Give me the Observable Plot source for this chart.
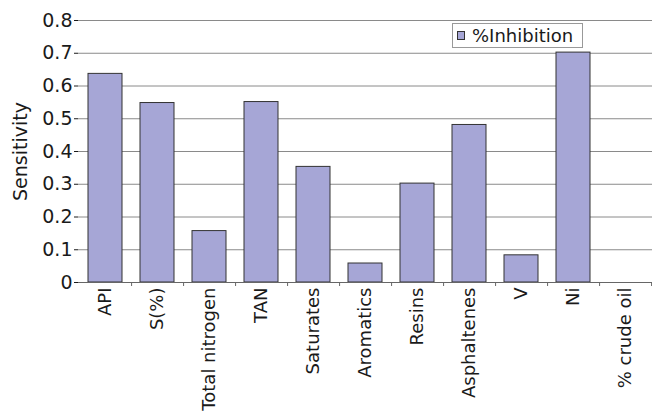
<!DOCTYPE html>
<html>
<head>
<meta charset="utf-8">
<script src="https://cdn.jsdelivr.net/npm/d3@7"></script>
<script src="https://cdn.jsdelivr.net/npm/@observablehq/plot@0.6"></script>
<style>
  html, body { margin: 0; padding: 0; background: #fff; }
  #wrap { position: relative; width: 652px; height: 414px; font-family: "DejaVu Sans", sans-serif; }
  #wrap svg text { font-size: 18px; fill: #1a1a1a; }
  #wrap svg g[aria-label="y-axis tick label"] text { font-size: 19px; }
  #wrap svg g[aria-label="y-axis label"] text { font-size: 19px; }
  #legend { position: absolute; left: 452px; top: 23px; width: 131px; height: 25px; border: 1px solid #999; background: #fff;
    box-sizing: border-box; display: flex; align-items: center; font-size: 18px; color: #1a1a1a; padding-left: 4px; white-space: nowrap; }
  #legend .sw { width: 6px; height: 7px; background: #a6a6d6; border: 1px solid #333; margin-right: 7px; }
</style>
</head>
<body>
<div id="wrap"><div id="legend"><span class="sw"></span><span id="lt"></span></div></div>
<script>
const categories = ["API", "S(%)", "Total nitrogen", "TAN", "Saturates", "Aromatics", "Resins", "Asphaltenes", "V", "Ni", "% crude oil"];
const values = [0.637, 0.548, 0.157, 0.551, 0.353, 0.058, 0.302, 0.481, 0.083, 0.702, 0];
const yTicks = [0, 0.1, 0.2, 0.3, 0.4, 0.5, 0.6, 0.7, 0.8];
const seriesName = "%Inhibition";

document.getElementById("lt").textContent = seriesName;
const data = categories.map((c, i) => ({category: c, value: values[i]}));

const W = 652, ML = 78, MR = 0;
const halfStep = (W - ML - MR) / categories.length / 2;

const chart = Plot.plot({
  width: W,
  height: 414,
  marginLeft: ML,
  marginRight: MR,
  marginTop: 20,
  marginBottom: 132,
  style: {fontFamily: "DejaVu Sans, sans-serif", color: "#1a1a1a", background: "transparent"},
  x: {domain: categories, paddingInner: 0.35, paddingOuter: 0.175, label: null, tickRotate: -90, tickSize: 0, tickPadding: 5},
  y: {domain: [0, 0.8], ticks: yTicks, tickFormat: d => d === 0 ? "0" : d3.format(".1f")(d), label: "Sensitivity", labelAnchor: "center", labelArrow: "none", labelOffset: 65, tickSize: 4, tickPadding: 2},
  marks: [
    Plot.gridY(yTicks, {stroke: "#8a8a8a", strokeOpacity: 1, strokeWidth: 1}),
    Plot.barY(data, {x: "category", y: "value", fill: "#a6a6d6", stroke: "#333", strokeWidth: 1}),
    Plot.ruleX(categories, {x: d => d, dx: halfStep, y1: 0, y2: 0, insetBottom: -4, stroke: "#666"}),
    Plot.ruleX([0], {frameAnchor: "left", stroke: "#666"}),
    Plot.ruleY([0], {stroke: "#666"})
  ]
});
document.getElementById("wrap").prepend(chart);
</script>
</body>
</html>
